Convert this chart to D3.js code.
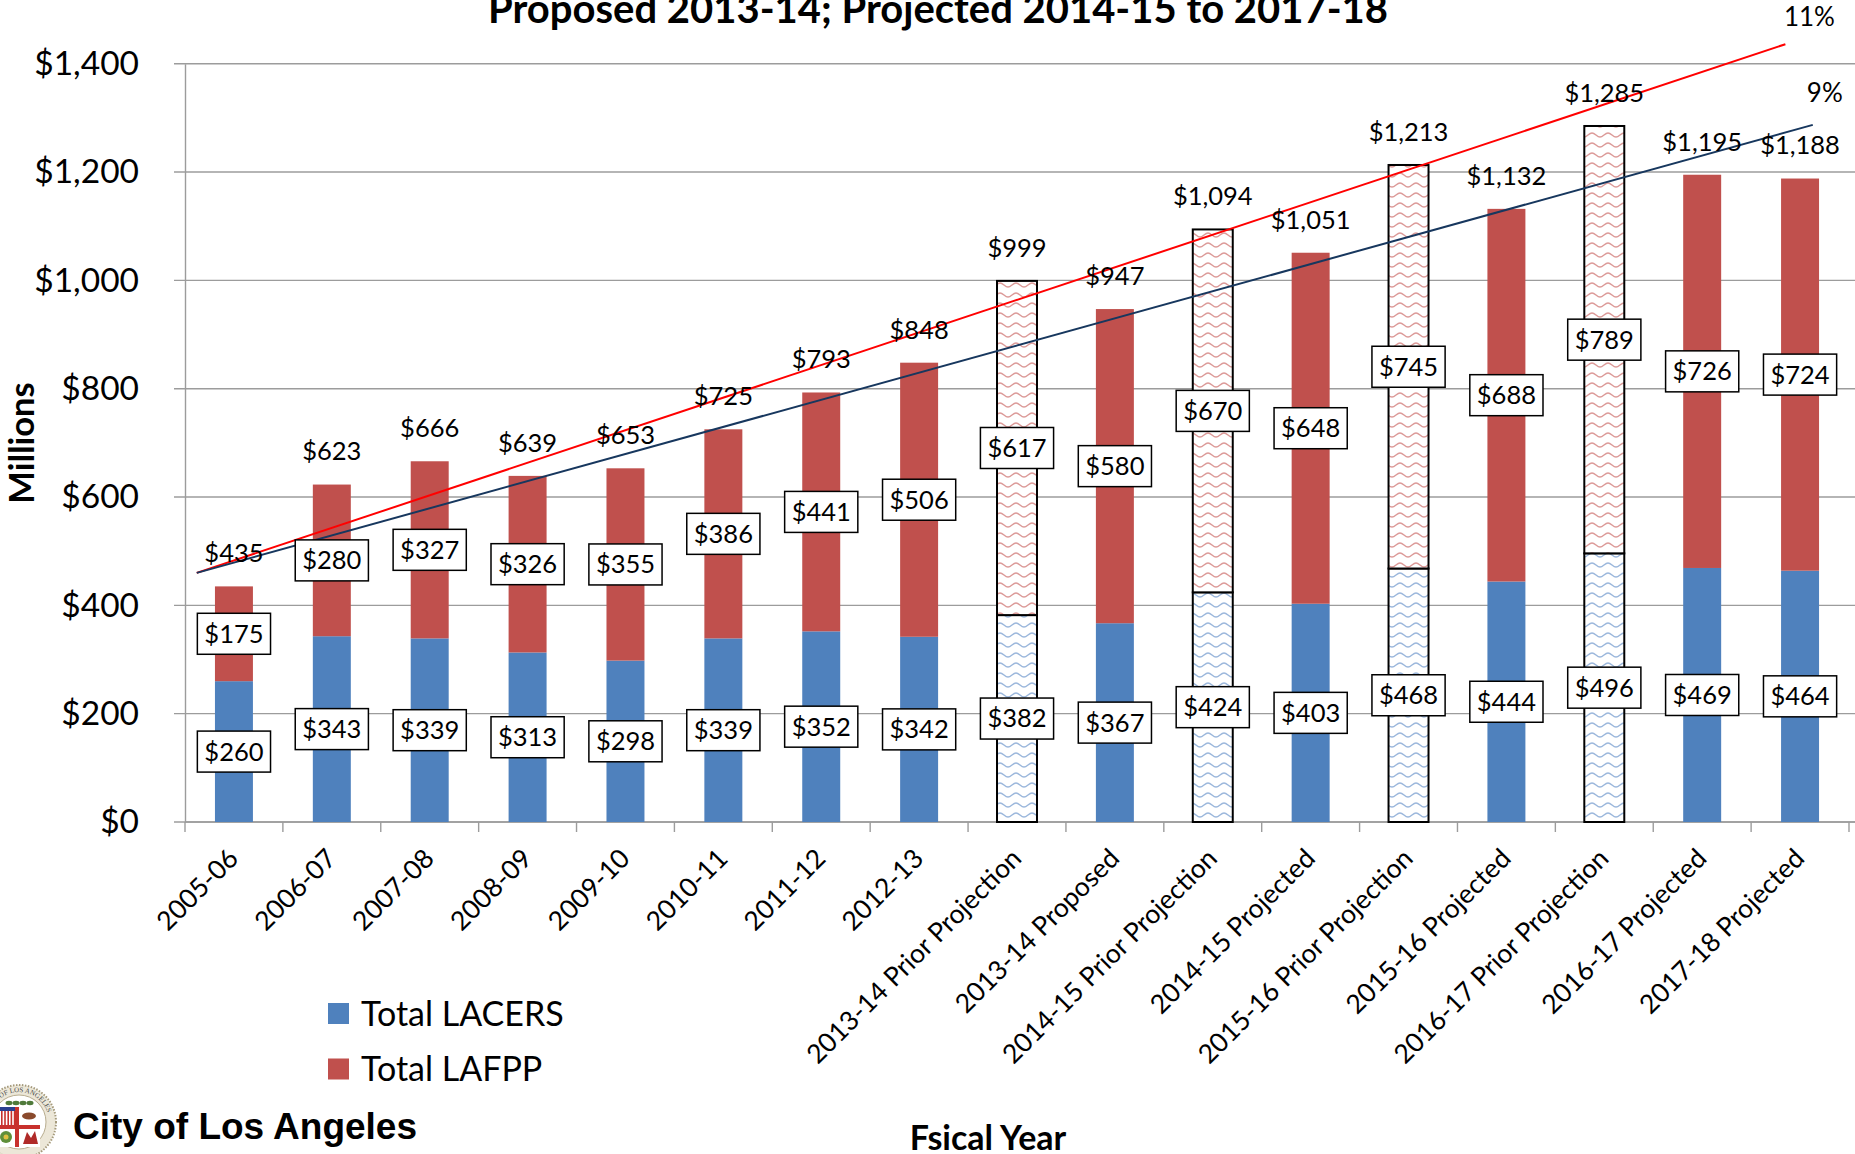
<!DOCTYPE html>
<html>
<head>
<meta charset="utf-8">
<script src="https://cdn.jsdelivr.net/npm/d3@7"></script>
<style>
  html, body { margin: 0; padding: 0; background: #fff; }
  svg { display: block; font-family: Lato, "Open Sans", sans-serif; }
</style>
</head>
<body>
<svg id="chart" width="1855" height="1154"></svg>
<script>
// Fiscal years shown on the x axis
const categories = [
  "2005-06", "2006-07", "2007-08", "2008-09", "2009-10", "2010-11", "2011-12", "2012-13",
  "2013-14 Prior Projection", "2013-14 Proposed", "2014-15 Prior Projection", "2014-15 Projected",
  "2015-16 Prior Projection", "2015-16 Projected", "2016-17 Prior Projection", "2016-17 Projected",
  "2017-18 Projected"
];
// Contributions in $ millions
const lacers = [260, 343, 339, 313, 298, 339, 352, 342, 382, 367, 424, 403, 468, 444, 496, 469, 464];
const lafpp  = [175, 280, 327, 326, 355, 386, 441, 506, 617, 580, 670, 648, 745, 688, 789, 726, 724];
const totals = [435, 623, 666, 639, 653, 725, 793, 848, 999, 947, 1094, 1051, 1213, 1132, 1285, 1195, 1188];
const yTicks = [0, 200, 400, 600, 800, 1000, 1200, 1400];
// Trend lines: endpoints as (category position, value in $ millions)
const trendRed  = [{ pos: -0.38, value: 460 }, { pos: 15.85, value: 1436 }];
const trendBlue = [{ pos: -0.38, value: 460 }, { pos: 16.13, value: 1287 }];
const trendLabels = ["11%", "9%"];
const seriesNames = ["Total LACERS", "Total LAFPP"];

const COLORS = { lacers: "#4F81BD", lafpp: "#C0504D", lacersHatch: "#9bb7dc", lafppHatch: "#dc9a98" };

const svg = d3.select("#chart");
const margin = { left: 185, right: 1849, top: 63.7, bottom: 822 };

const x = d3.scaleBand().domain(categories).range([margin.left, margin.right])
  .paddingInner(0.612).paddingOuter(0.306);
const xPos = d3.scaleLinear().domain([-0.5, categories.length - 0.5]).range([margin.left, margin.right]);
const y = d3.scaleLinear().domain([0, 1400]).range([margin.bottom, margin.top]);

// Wavy fill patterns for the prior projection bars
const defs = svg.append("defs");
[["waveBlue", COLORS.lacersHatch], ["waveRed", COLORS.lafppHatch]].forEach(([id, col]) => {
  const p = defs.append("pattern").attr("id", id).attr("patternUnits", "userSpaceOnUse")
    .attr("width", 16).attr("height", 10);
  p.append("rect").attr("width", 16).attr("height", 10).attr("fill", "#fff");
  p.append("path").attr("d", "M0,7 C3,7 5,3 8,3 C11,3 13,7 16,7")
    .attr("fill", "none").attr("stroke", col).attr("stroke-width", 1.5);
});

// Gridlines with left tick stubs
svg.append("g").selectAll("line").data(yTicks).join("line")
  .attr("x1", margin.left - 11).attr("x2", 1855)
  .attr("y1", d => y(d)).attr("y2", d => y(d))
  .attr("stroke", "#9c9c9c").attr("stroke-width", 1.4);

// Y axis
const yAxis = svg.append("g").attr("transform", `translate(${margin.left},0)`)
  .call(d3.axisLeft(y).tickValues(yTicks).tickSize(0).tickPadding(46)
    .tickFormat(d => "$" + d3.format(",")(d)));
yAxis.select(".domain").attr("stroke", "#9c9c9c").attr("stroke-width", 1.4);
yAxis.selectAll("text").attr("font-size", 33.5).attr("fill", "#000").attr("font-family", "Lato");

// X axis baseline and ticks at band boundaries
const step = x.step();
svg.append("line").attr("x1", margin.left).attr("x2", 1855)
  .attr("y1", margin.bottom).attr("y2", margin.bottom)
  .attr("stroke", "#9c9c9c").attr("stroke-width", 1.4);
svg.append("g").selectAll("line").data(d3.range(categories.length + 1)).join("line")
  .attr("x1", i => margin.left + i * step).attr("x2", i => margin.left + i * step)
  .attr("y1", margin.bottom).attr("y2", margin.bottom + 10)
  .attr("stroke", "#9c9c9c").attr("stroke-width", 1.4);

// X labels rotated 45 degrees
svg.append("g").selectAll("text").data(categories).join("text")
  .attr("transform", d => `translate(${x(d) + x.bandwidth() / 2 + 6},${margin.bottom + 38}) rotate(-45)`)
  .attr("text-anchor", "end").attr("font-size", 26.5).attr("fill", "#000")
  .text(d => d);

// Stacked bars
const isPrior = d => d.includes("Prior Projection");
const bars = svg.append("g");
categories.forEach((c, i) => {
  const prior = isPrior(c);
  const segs = [
    { y0: 0, y1: lacers[i], fill: prior ? "url(#waveBlue)" : COLORS.lacers },
    { y0: lacers[i], y1: lacers[i] + lafpp[i], fill: prior ? "url(#waveRed)" : COLORS.lafpp }
  ];
  segs.forEach(s => {
    bars.append("rect")
      .attr("x", prior ? x(c) - 1 : x(c))
      .attr("width", prior ? x.bandwidth() + 2 : x.bandwidth())
      .attr("y", y(s.y1)).attr("height", y(s.y0) - y(s.y1))
      .attr("fill", s.fill)
      .attr("stroke", prior ? "#000" : "none").attr("stroke-width", 2);
  });
});

// Trend lines
const line = d3.line().x(d => xPos(d.pos)).y(d => y(d.value));
svg.append("path").datum(trendRed).attr("d", line).attr("stroke", "#FF0000")
  .attr("stroke-width", 2).attr("fill", "none");
svg.append("path").datum(trendBlue).attr("d", line).attr("stroke", "#17375E")
  .attr("stroke-width", 2).attr("fill", "none");
svg.append("text").attr("x", xPos(trendRed[1].pos) + 24).attr("y", 26)
  .attr("text-anchor", "middle").attr("font-size", 26).text(trendLabels[0]);
svg.append("text").attr("x", xPos(trendBlue[1].pos) + 12).attr("y", 102)
  .attr("text-anchor", "middle").attr("font-size", 26).text(trendLabels[1]);

// Totals above bars
svg.append("g").selectAll("text").data(categories).join("text")
  .attr("x", d => x(d) + x.bandwidth() / 2)
  .attr("y", (d, i) => y(totals[i]) - 33).attr("dy", "0.35em")
  .attr("text-anchor", "middle").attr("font-size", 25.5)
  .text((d, i) => "$" + d3.format(",")(totals[i]));

// Boxed segment labels
const labelG = svg.append("g");
function boxedLabel(cx, cy, txt) {
  const g = labelG.append("g");
  const r = g.append("rect").attr("fill", "#fff").attr("stroke", "#000").attr("stroke-width", 1.5);
  const t = g.append("text").attr("x", cx).attr("y", cy).attr("dy", "0.35em")
    .attr("text-anchor", "middle").attr("font-size", 25.5).text(txt);
  const w = t.node().getComputedTextLength() + 14;
  r.attr("x", cx - w / 2).attr("y", cy - 20.5).attr("width", w).attr("height", 41);
}
categories.forEach((c, i) => {
  const cx = x(c) + x.bandwidth() / 2;
  boxedLabel(cx, y(lacers[i] / 2), "$" + lacers[i]);
  boxedLabel(cx, y(lacers[i] + lafpp[i] / 2), "$" + lafpp[i]);
});

// Axis titles
svg.append("text").attr("transform", "translate(34,443) rotate(-90)")
  .attr("text-anchor", "middle").attr("font-size", 34.5).attr("font-weight", "bold").text("Millions");
svg.append("text").attr("x", 988).attr("y", 1150).attr("text-anchor", "middle")
  .attr("font-size", 34).attr("font-weight", "bold").text("Fsical Year");
svg.append("text").attr("x", 938).attr("y", 23).attr("text-anchor", "middle")
  .attr("font-size", 40).attr("font-weight", "bold").text("Proposed 2013-14; Projected 2014-15 to 2017-18");

// Legend
const legend = svg.append("g");
seriesNames.forEach((name, i) => {
  const ly = 1014 + i * 55.5;
  legend.append("rect").attr("x", 328).attr("y", ly - 11).attr("width", 21).attr("height", 21)
    .attr("fill", i === 0 ? COLORS.lacers : COLORS.lafpp);
  legend.append("text").attr("x", 361).attr("y", ly).attr("dy", "0.35em")
    .attr("font-size", 34).text(name);
});

// City seal
const seal = svg.append("g").attr("transform", "translate(19,1122)");
seal.append("circle").attr("r", 37).attr("fill", "#ece7d8").attr("stroke", "#a59a7c")
  .attr("stroke-width", 2).attr("stroke-dasharray", "1.5 1.5");
defs.append("path").attr("id", "sealArc").attr("d", "M-30,0 A30,30 0 0,1 30,0");
seal.append("text").attr("font-size", 7).attr("font-family", "Liberation Serif")
  .attr("fill", "#4a4a4a").append("textPath").attr("href", "#sealArc")
  .attr("startOffset", "50%").attr("text-anchor", "middle").text("CITY OF LOS ANGELES");
seal.append("circle").attr("r", 27).attr("fill", "#fff").attr("stroke", "#b8ad8f");
// leaves on top of the shield
[-10, -3, 4, 11].forEach(dx => seal.append("ellipse").attr("cx", dx).attr("cy", -19)
  .attr("rx", 3.5).attr("ry", 2.2).attr("fill", "#4f7a3a"));
// shield quadrants
seal.append("rect").attr("x", -21).attr("y", -15).attr("width", 42).attr("height", 40).attr("fill", "#c8312d");
// flag
seal.append("rect").attr("x", -21).attr("y", -15).attr("width", 17).attr("height", 18).attr("fill", "#fff");
d3.range(5).forEach(k => seal.append("rect").attr("x", -18 + k * 3.2).attr("y", -11)
  .attr("width", 1.6).attr("height", 14).attr("fill", "#c8312d"));
seal.append("rect").attr("x", -21).attr("y", -15).attr("width", 17).attr("height", 4).attr("fill", "#2a3f8f");
// bear
seal.append("rect").attr("x", 0).attr("y", -15).attr("width", 21).attr("height", 18).attr("fill", "#fff");
seal.append("ellipse").attr("cx", 10).attr("cy", -6).attr("rx", 7).attr("ry", 3.5).attr("fill", "#8a4a2c");
// lower quadrants
seal.append("rect").attr("x", -21).attr("y", 7).attr("width", 17).attr("height", 18).attr("fill", "#fff");
seal.append("circle").attr("cx", -13).attr("cy", 15).attr("r", 6).attr("fill", "#5f8f3a");
seal.append("circle").attr("cx", -13).attr("cy", 15).attr("r", 2.5).attr("fill", "#e0c040");
seal.append("rect").attr("x", 0).attr("y", 7).attr("width", 21).attr("height", 18).attr("fill", "#fff");
seal.append("path").attr("d", "M4,22 L8,10 L12,16 L16,9 L19,22 Z").attr("fill", "#b02a28");

svg.append("text").attr("x", 73).attr("y", 1139).attr("font-family", "Liberation Sans")
  .attr("font-weight", "bold").attr("font-size", 37).attr("fill", "#000").text("City of Los Angeles");
</script>
</body>
</html>
